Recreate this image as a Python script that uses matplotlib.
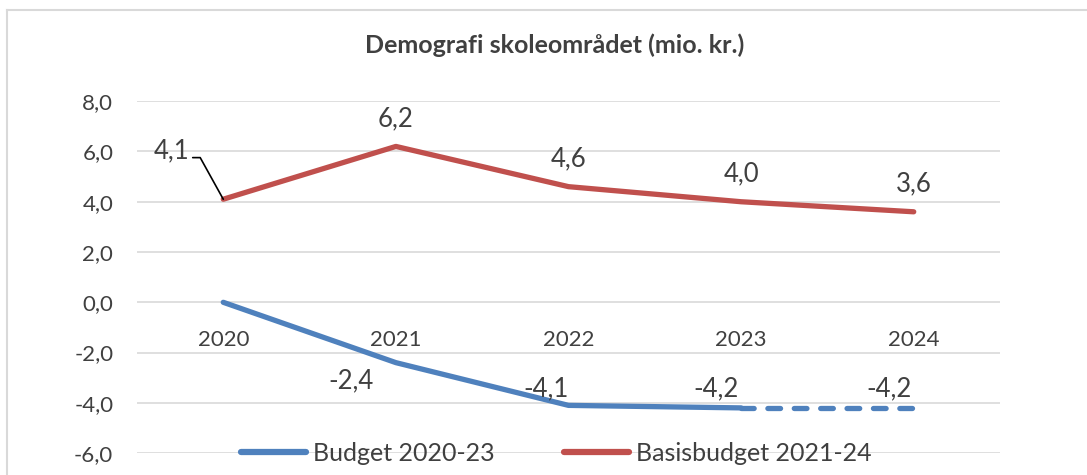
import matplotlib.pyplot as plt
from matplotlib.lines import Line2D

years = ['2020', '2021', '2022', '2023', '2024']
budget = [0.0, -2.4, -4.1, -4.2]
budget_proj = [-4.2, -4.2]
basis = [4.1, 6.2, 4.6, 4.0, 3.6]
yticks = [-6, -4, -2, 0, 2, 4, 6, 8]

BLUE = '#4F81BD'
RED = '#C0504D'
TXT = '#404040'

plt.rcParams['font.family'] = ['Lato', 'DejaVu Sans']


def fmt(v):
    return f'{v:.1f}'.replace('.', ',')


def main():
    fig = plt.figure(figsize=(10.87, 4.75), dpi=100)
    ax = fig.add_axes([0.126, 0.046, 0.794, 0.741])

    # figure frame (left + top only visible)
    fig.add_artist(Line2D([7 / 1087, 7 / 1087], [0, 1 - 10 / 475], transform=fig.transFigure,
                          color='#D9D9D9', lw=1.5))
    fig.add_artist(Line2D([7 / 1087, 1], [1 - 10 / 475, 1 - 10 / 475], transform=fig.transFigure,
                          color='#D9D9D9', lw=1.5))

    x = list(range(len(years)))
    ax.plot(x[:4], budget, color=BLUE, lw=3.8, solid_capstyle='round', label='Budget 2020-23', zorder=3)
    ax.plot(x[3:], budget_proj, color=BLUE, lw=3.8, ls=(0, (2.4, 2.6)), dash_capstyle='round', zorder=3)
    ax.plot(x, basis, color=RED, lw=3.8, solid_capstyle='round', label='Basisbudget 2021-24', zorder=3)

    ax.set_xlim(-0.5, 4.5)
    ax.set_ylim(-6, 8)
    ax.set_yticks(yticks)
    ax.set_yticklabels([fmt(v) for v in yticks])
    ax.grid(axis='y', color='#D9D9D9', lw=1.2)
    ax.set_axisbelow(True)
    for s in ax.spines.values():
        s.set_visible(False)
    ax.spines['bottom'].set_position(('data', 0))
    ax.set_xticks(x)
    ax.set_xticklabels(years)
    ax.tick_params(axis='x', length=0, pad=20, labelsize=16, labelcolor=TXT)
    ax.tick_params(axis='y', length=0, pad=17, labelsize=16, labelcolor=TXT)

    # data labels, red
    for i, v in enumerate(basis):
        if i == 0:
            continue
        ax.annotate(fmt(v), (i, v), xytext=(0, 20), textcoords='offset points',
                    ha='center', va='center', fontsize=18.5, color=TXT)
    ax.annotate(fmt(basis[0]), (0, basis[0]), xytext=(-24, 35), textcoords='offset points',
                ha='right', va='center', fontsize=18.5, color=TXT,
                arrowprops=dict(arrowstyle='-', color='black', lw=1.2, relpos=(0.85, 0.22),
                                connectionstyle='angle,angleA=0,angleB=119,rad=0',
                                shrinkA=0, shrinkB=0))

    # data labels, blue
    blue_all = budget + budget_proj[1:]
    offsets = [None, (-32, -13), (-16, 12), (-18, 14), (-18, 14)]
    for i, v in enumerate(blue_all):
        if offsets[i] is None:
            continue
        ax.annotate(fmt(v), (i, v), xytext=offsets[i], textcoords='offset points',
                    ha='center', va='center', fontsize=18.5, color=TXT)

    fig.text(555 / 1087, 1 - 45 / 475, 'Demografi skoleområdet (mio. kr.)', fontsize=18,
             fontweight='bold', color=TXT, ha='center', va='center')

    leg = ax.legend(loc='center', bbox_to_anchor=(0.486, 0.0), ncol=2, frameon=False,
                    fontsize=18, handlelength=2.6, columnspacing=2.75, handletextpad=0.3)
    for t in leg.get_texts():
        t.set_color(TXT)
    for h in leg.get_lines():
        h.set_linewidth(4.5)

    fig.savefig('out.png', dpi=100)


if __name__ == '__main__':
    main()
